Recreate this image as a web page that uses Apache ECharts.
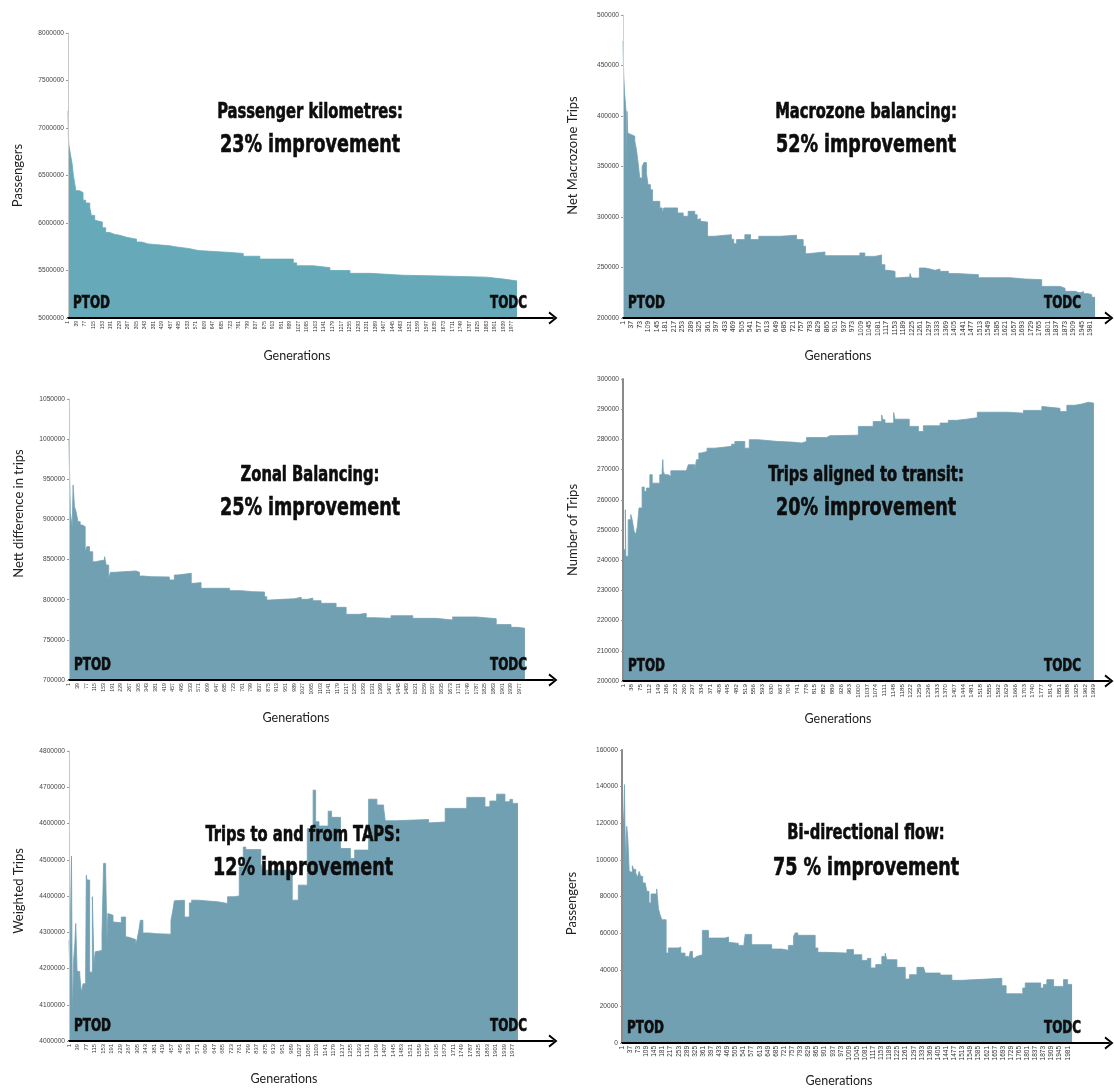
<!DOCTYPE html>
<html><head><meta charset="utf-8">
<script src="https://cdn.jsdelivr.net/npm/echarts@6/dist/echarts.min.js"></script>
<style>html,body{margin:0;padding:0;background:#fff}#c{width:1114px;height:1088px}</style>
</head><body><div id="c"></div><script>
// ---------- tick labels (generation numbers shown on each x axis) ----------
const ticks38 = [1,39,77,115,153,191,229,267,305,343,381,419,457,495,533,571,609,647,685,723,761,799,837,875,913,951,989,1027,1065,1103,1141,1179,1217,1255,1293,1331,1369,1407,1445,1483,1521,1559,1597,1635,1673,1711,1749,1787,1825,1863,1901,1939,1977];
const ticks36 = [1,37,73,109,145,181,217,253,289,325,361,397,433,469,505,541,577,613,649,685,721,757,793,829,865,901,937,973,1009,1045,1081,1117,1153,1189,1225,1261,1297,1333,1369,1405,1441,1477,1513,1549,1585,1621,1657,1693,1729,1765,1801,1837,1873,1909,1945,1981];
const ticks37 = [1,38,75,112,149,186,223,260,297,334,371,408,445,482,519,556,593,630,667,704,741,778,815,852,889,926,963,1000,1037,1074,1111,1148,1185,1222,1259,1296,1333,1370,1407,1444,1481,1518,1555,1592,1629,1666,1703,1740,1777,1814,1851,1888,1925,1962,1999];

// ---------- series values: [generation where value starts, value] ----------
const passengerKm = [[1,7180000],[3,6900000],[5,6820000],[12,6720000],[19,6630000],[25,6500000],[30,6430000],[36,6340000],[53,6320000],[68,6240000],[80,6210000],[98,6160000],[105,6080000],[120,6030000],[128,6010000],[154,5950000],[169,5900000],[187,5880000],[209,5870000],[232,5850000],[261,5830000],[306,5800000],[328,5780000],[358,5760000],[454,5750000],[477,5730000],[543,5710000],[580,5690000],[722,5680000],[781,5650000],[855,5620000],[1004,5580000],[1019,5550000],[1093,5530000],[1167,5500000],[1256,5470000],[1345,5450000],[1494,5440000],[1702,5430000],[1865,5410000],[1939,5390000],[2000,5390000]];

const macrozone = [[1,474000],[4,440000],[8,421800],[14,404600],[17,339000],[18,404600],[21,383000],[27,381500],[37,380000],[51,375000],[58,366700],[65,353500],[72,338600],[82,350000],[90,354000],[100,343500],[107,332000],[117,327000],[126,315500],[157,309000],[167,304000],[174,309000],[192,310500],[199,309000],[232,304000],[256,300700],[277,305600],[305,302300],[315,297400],[322,298300],[329,295700],[336,295000],[359,280900],[387,282500],[460,278000],[470,273600],[482,277600],[517,282500],[541,277600],[576,280900],[665,281900],[736,277600],[764,271000],[774,263700],[785,265400],[856,261700],[1004,264400],[1025,261000],[1068,262400],[1096,252800],[1110,247200],[1124,246200],[1153,239600],[1160,240600],[1216,244000],[1223,239600],[1256,249500],[1280,248500],[1301,247200],[1322,248500],[1343,246200],[1379,244000],[1414,242900],[1506,239900],[1640,238600],[1703,237960],[1774,231300],[1852,229400],[1873,226400],[1915,224800],[1936,226100],[1951,224100],[1972,223100],[1986,220500],[2000,220500]];

const zonal = [[1,999000],[3,963600],[7,907600],[15,891000],[19,942900],[25,915900],[32,909700],[40,897200],[50,893100],[59,891000],[72,859800],[79,866100],[91,859800],[105,847400],[117,849500],[157,853600],[164,843200],[175,826600],[183,834100],[200,835800],[295,834100],[310,829500],[325,828700],[361,828300],[441,824600],[463,830800],[478,832900],[537,820400],[548,821300],[580,814200],[705,811300],[756,810000],[807,808000],[814,809600],[858,803800],[868,799600],[880,800500],[938,801200],[989,803000],[1019,800500],[1048,802000],[1070,798800],[1106,795500],[1172,790500],[1216,781800],[1274,783000],[1304,777600],[1340,776800],[1413,780100],[1508,776800],[1610,774700],[1683,778500],[1786,776400],[1874,769000],[1939,765600],[1968,764400],[2000,764400]];

const transit = [[1,243500],[11,256700],[13,241300],[23,253400],[34,255100],[40,253400],[48,249600],[55,248500],[62,251200],[69,257300],[82,264200],[91,262800],[101,263900],[115,268300],[125,265500],[157,268300],[167,269400],[170,273300],[172,269400],[178,268300],[193,267700],[204,269600],[270,269900],[278,271600],[306,269900],[313,273300],[323,275500],[334,276000],[358,277100],[391,277700],[462,278400],[476,279300],[518,277100],[537,279900],[575,279300],[660,279100],[717,278800],[759,279300],[780,280600],[865,281200],[879,281400],[1000,284300],[1063,285900],[1099,288100],[1104,286500],[1113,285400],[1150,288900],[1155,286700],[1216,284300],[1255,282600],[1276,284500],[1347,285400],[1382,286300],[1417,286700],[1460,287200],[1505,289000],[1637,288700],[1701,289600],[1779,290900],[1786,290300],[1856,289200],[1885,291300],[1920,291700],[1948,292300],[1977,292000],[2000,292000]];

const taps = [[1,4278000],[4,4209000],[12,4510000],[16,4075500],[22,4227000],[27,4269000],[31,4324000],[37,4192000],[49,4181000],[56,4135000],[64,4158000],[75,4179000],[78,4457500],[81,4444000],[93,4190000],[105,4398000],[112,4213600],[118,4246000],[126,4248600],[138,4250000],[148,4296000],[155,4490000],[164,4480000],[170,4273000],[174,4351600],[182,4347000],[197,4328600],[204,4326000],[234,4342000],[253,4287000],[263,4282600],[285,4280000],[297,4264000],[305,4282600],[312,4305600],[319,4333000],[330,4298000],[359,4296000],[389,4294600],[455,4333000],[463,4359000],[470,4386600],[478,4388500],[515,4342000],[537,4381000],[547,4388500],[574,4384000],[663,4379300],[707,4398000],[737,4400000],[759,4480000],[777,4535000],[788,4528000],[855,4490000],[862,4471000],[995,4388500],[1022,4430000],[1062,4586000],[1088,4692000],[1099,4605000],[1114,4593000],[1155,4634000],[1170,4617000],[1210,4531000],[1254,4503600],[1273,4526600],[1335,4667000],[1372,4651000],[1402,4642000],[1409,4607600],[1454,4611000],[1602,4602000],[1616,4604000],[1676,4641600],[1772,4672000],[1853,4646000],[1875,4662000],[1905,4681000],[1942,4660000],[1964,4666500],[1976,4655500],[2000,4655500]];

const biFlow = [[1,130000],[8,120000],[12,141100],[14,120000],[18,96500],[22,118300],[27,111000],[33,93700],[38,93200],[47,96800],[53,94700],[62,92800],[70,90500],[77,93700],[84,91000],[93,87400],[104,86800],[111,82800],[121,76500],[130,81400],[155,84100],[163,73200],[170,70100],[178,67300],[197,49100],[207,51900],[252,52400],[262,49100],[281,47300],[296,45100],[304,50000],[314,46400],[323,47300],[333,48200],[358,61500],[385,57300],[459,57900],[474,55000],[481,54400],[518,53300],[540,51000],[548,59300],[577,53700],[666,51300],[711,50600],[740,53300],[763,58200],[770,60100],[782,58800],[859,51900],[871,49500],[911,49100],[1000,51000],[1029,48200],[1066,45100],[1091,46200],[1106,41000],[1128,42800],[1155,47300],[1170,49100],[1177,45500],[1222,41300],[1259,34900],[1278,37300],[1311,41300],[1340,41900],[1348,38200],[1414,37100],[1466,34200],[1510,34900],[1622,35300],[1688,31300],[1707,26900],[1781,30000],[1792,32800],[1861,30000],[1873,31900],[1888,34600],[1918,30900],[1962,34600],[1980,32000],[2000,32000]];

// ---------- panel layout / styling ----------
const BLUE = '#72A0B3', TEAL = '#66AAB9';
const panels = [
  {data: passengerKm, ticks: ticks38, yMin: 5000000, yMax: 8000000, yStep: 500000, yName: 'Passengers',
   t1: 'Passenger kilometres:', t2: '23% improvement', color: TEAL,
   left: 68, top: 33, width: 485, height: 285, xMax: 2160, xFont: 5, yLine: ['#c8c8c8', 1], yPad: [0,0,0,0], xPad: [0,27,0,0],
   tx: 310, ty1: 113, ty2: 145},
  {data: macrozone, ticks: ticks36, yMin: 200000, yMax: 500000, yStep: 50000, yName: 'Net Macrozone Trips',
   t1: 'Macrozone balancing:', t2: '52% improvement', color: BLUE,
   left: 623, top: 15, width: 486, height: 303, xMax: 2059, xFont: 6.8, yLine: ['#d0d0d0', 1], yPad: [0,0,0,22], xPad: [0,56,0,0],
   tx: 866, ty1: 113, ty2: 145},
  {data: zonal, ticks: ticks38, yMin: 700000, yMax: 1050000, yStep: 50000, yName: 'Nett difference in trips',
   t1: 'Zonal Balancing:', t2: '25% improvement', color: BLUE,
   left: 69, top: 399, width: 484, height: 281, xMax: 2123, xFont: 5.2, yLine: ['#c8c8c8', 1], yPad: [0,0,0,52], xPad: [0,30,0,0],
   tx: 310, ty1: 476, ty2: 508},
  {data: transit, ticks: ticks37, yMin: 200000, yMax: 300000, yStep: 10000, yName: 'Number of Trips',
   t1: 'Trips aligned to transit:', t2: '20% improvement', color: BLUE,
   left: 623, top: 379, width: 486, height: 302, xMax: 2064, xFont: 6.2, yLine: ['#8a8a8a', 2], yPad: [0,0,0,0], xPad: [0,56,0,0],
   tx: 866, ty1: 476, ty2: 508},
  {data: taps, ticks: ticks38, yMin: 4000000, yMax: 4800000, yStep: 100000, yName: 'Weighted Trips',
   t1: 'Trips to and from TAPS:', t2: '12% improvement', color: BLUE,
   left: 69, top: 751, width: 484, height: 290, xMax: 2156, xFont: 5.8, yLine: ['#c8c8c8', 1], yPad: [0,0,0,10], xPad: [0,54,0,0],
   tx: 303, ty1: 836, ty2: 868},
  {data: biFlow, ticks: ticks36, yMin: 0, yMax: 160000, yStep: 20000, yName: 'Passengers',
   t1: 'Bi-directional flow:', t2: '75 % improvement', color: BLUE,
   left: 622, top: 750, width: 487, height: 293, xMax: 2164, xFont: 6.5, yLine: ['#8a8a8a', 2], yPad: [0,14,0,0], xPad: [0,53,0,0],
   tx: 866, ty1: 834, ty2: 868}
];

const ARROW = 'path://M0,8 L6.5,0 L13,8 L11.3,9 L6.5,2.9 L1.7,9 Z';
const TITLE_FONT = '"Liberation Sans Narrow", "Arial Narrow", "DejaVu Sans Condensed", sans-serif';
const LABEL_FONT = '"Liberation Sans", Arial, sans-serif';
const NAME_FONT = 'Lato, "Open Sans", sans-serif';
const SQUEEZE = 0.78;

function label(text, x, y, size, align) {
  return {type: 'text', z: 100, x: x, y: y, scaleX: SQUEEZE, scaleY: 1,
    style: {text: text, font: 'bold ' + size + 'px ' + TITLE_FONT, fill: '#0d0d0d',
      stroke: '#0d0d0d', lineWidth: 0.6,
      textAlign: align, textVerticalAlign: 'middle', align: align, verticalAlign: 'middle'}};
}

const grid = [], xAxis = [], yAxis = [], series = [], graphic = [];
panels.forEach((p, i) => {
  grid.push({left: p.left, top: p.top, width: p.width, height: p.height, outerBoundsMode: 'none', containLabel: false});
  xAxis.push({
    type: 'value', gridIndex: i, min: 1, max: p.xMax, z: 5,
    name: 'Generations', nameLocation: 'middle', nameGap: 31,
    nameTextStyle: {fontFamily: NAME_FONT, fontSize: 12.5, color: '#222', padding: p.xPad},
    splitLine: {show: false},
    axisLine: {show: true, symbol: ['none', ARROW], symbolSize: [13, 9], lineStyle: {color: '#000', width: 2}},
    axisTick: {show: false, customValues: p.ticks},
    axisLabel: {customValues: p.ticks, rotate: 90, fontSize: p.xFont, color: '#333', margin: 3, fontFamily: LABEL_FONT,
                formatter: v => String(v)}
  });
  yAxis.push({
    type: 'value', gridIndex: i, min: p.yMin, max: p.yMax, interval: p.yStep, z: 5,
    name: p.yName, nameLocation: 'middle', nameGap: 44,
    nameTextStyle: {fontFamily: NAME_FONT, fontSize: 13, color: '#222', padding: p.yPad},
    splitLine: {show: false},
    axisLine: {show: true, lineStyle: {color: p.yLine[0], width: p.yLine[1]}},
    axisTick: {show: true, length: 2, lineStyle: {color: '#999'}},
    axisLabel: {fontSize: 6.6, color: '#444', margin: 4, fontFamily: LABEL_FONT, formatter: v => String(v)}
  });
  series.push({
    type: 'line', xAxisIndex: i, yAxisIndex: i, step: 'end', data: p.data,
    symbol: 'none', silent: true, z: 2,
    lineStyle: {color: p.color, width: 0.8},
    areaStyle: {color: p.color, opacity: 1, origin: 'start'}
  });
  graphic.push(
    label(p.t1, p.tx, p.ty1, 21, 'center'),
    label(p.t2, p.tx, p.ty2, 25, 'center'),
    label('PTOD', p.left + 5, p.top + p.height - 14, 17, 'left'),
    label('TODC', p.left + p.width - 26 - (i % 2 ? 2 : 0), p.top + p.height - 14, 17, 'right')
  );
});

const chart = echarts.init(document.getElementById('c'), null, {renderer: 'canvas'});
chart.setOption({animation: false, backgroundColor: '#fff', grid, xAxis, yAxis, series, graphic});
</script></body></html>
